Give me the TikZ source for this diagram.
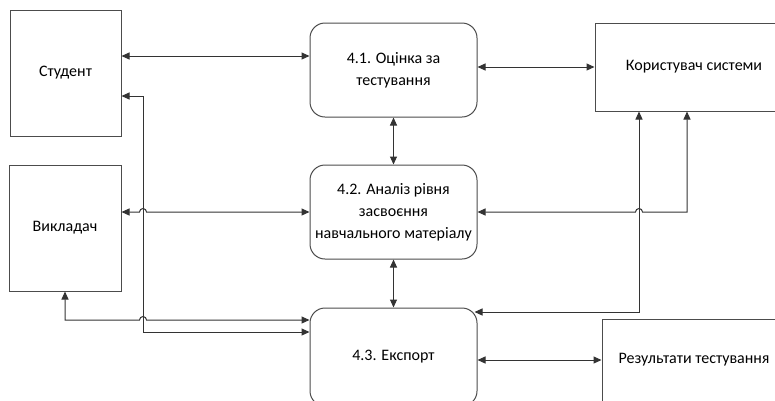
\documentclass[tikz,border=0pt]{standalone}
\usepackage{fontspec}
\setmainfont{Carlito}
\usetikzlibrary{arrows.meta}

\tikzset{
  entity/.style={draw=black!70, line width=1pt, fill=white, align=center,
    inner sep=0pt, font=\fontsize{16}{22}\selectfont},
  process/.style={entity, rounded corners=15pt},
  flow/.style={draw=black!80, line width=1pt,
    {Triangle[length=8pt,width=7pt]}-{Triangle[length=8pt,width=7pt]}},
}

\begin{document}
\begin{tikzpicture}[x=1pt, y=-1pt]
  \useasboundingbox (0,0) rectangle (775,400);
  \clip (0,0) rectangle (775,400);

  % external entities
  \node[entity, minimum width=111pt, minimum height=126pt] (stud)  at (65.5,73)  {Студент};
  \node[entity, minimum width=112pt, minimum height=126pt] (teach) at (65,228)   {Викладач};
  \node[entity, minimum width=198pt, minimum height=88pt]  (user)  at (694,67)   {Користувач системи};
  \node[entity, minimum width=184pt, minimum height=82pt]  (res)   at (694,360)  {Результати тестування};

  % processes
  \node[process, minimum width=167pt, minimum height=94pt] (p41) at (393.5,70)  {4.1. Оцінка за\\тестування};
  \node[process, minimum width=167pt, minimum height=94pt] (p42) at (393.5,212) {4.2. Аналіз рівня\\засвоєння\\навчального матеріалу};
  \node[process, minimum width=167pt, minimum height=98pt] (p43) at (393.5,357) {4.3. Експорт};

  % straight flows
  \draw[flow] (stud.east |- 0,56) -- (p41.west |- 0,56);
  \draw[flow] (p41.east |- user.west) -- (user.west);
  \draw[flow] (p41.south) -- (p42.north);
  \draw[flow] (p42.south) -- (p43.north);
  \draw[flow] (p43.east |- res.west) -- (res.west);

  % student <-> export, running down the left side
  \draw[flow] (stud.east |- 0,96) -- (143,96) -- (143,332) -- (p43.west |- 0,332);

  % teacher <-> analysis, hopping over the student line
  \draw[flow] (teach.east |- p42.west) -- (139.5,212)
    arc[start angle=180, end angle=360, radius=3.5] -- (p42.west);

  % teacher <-> export
  \draw[flow] (teach.south) -- (65,320) -- (139.5,320)
    arc[start angle=180, end angle=360, radius=3.5] -- (p43.west |- 0,320);

  % system user <-> analysis, hopping over the export line
  \draw[flow] (user.south -| 687,0) -- (687,212) -- (642.5,212)
    arc[start angle=0, end angle=-180, radius=3.5] -- (p42.east);

  % system user <-> export
  \draw[flow] (user.south -| 639,0) -- (639,312) -- ([xshift=-3pt]p43.east |- 0,312);
\end{tikzpicture}
\end{document}
